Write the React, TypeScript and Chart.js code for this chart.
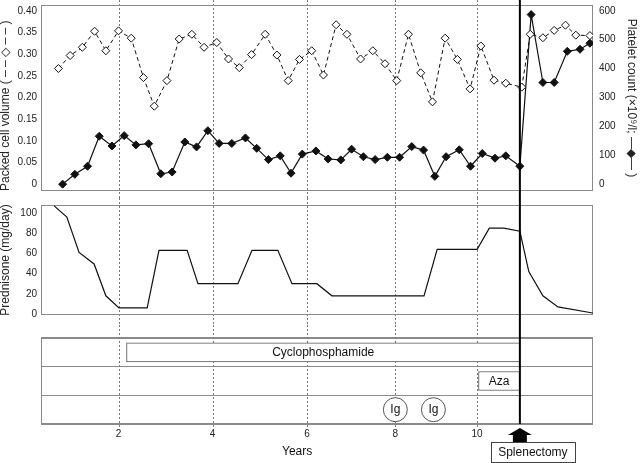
import React, { useEffect, useRef } from 'react';
import { Chart, registerables } from 'chart.js';

Chart.register(...registerables);

const FONT = "'Liberation Sans', Arial, Helvetica, sans-serif";
Chart.defaults.font.family = FONT;
Chart.defaults.color = '#222';

// ---------------- data ----------------
// x positions are on the figure's timeline axis (year ticks are not evenly spaced in the original)
const yearLabels = ['2', '4', '6', '8', '10'];
const yearTickPos = [2, 4, 6.01, 7.89, 9.63];
const X_MIN = 0.35;
const X_MAX = 12.096;
const splenectomyAt = 10.54;
const yearsTitleAt = 5.8;

const pcvTimes = [0.72, 0.97, 1.23, 1.49, 1.73, 2.0, 2.27, 2.53, 2.76, 3.03, 3.29, 3.56, 3.82, 4.09, 4.34, 4.57, 4.83, 5.12, 5.37, 5.61, 5.85, 6.11, 6.36, 6.63, 6.86, 7.15, 7.41, 7.67, 7.92, 8.17, 8.43, 8.68, 8.95, 9.21, 9.48, 9.71, 9.99, 10.24, 10.58, 10.76, 11.03, 11.27, 11.51, 11.73, 12.03];
const pcvValues = [0.267, 0.297, 0.316, 0.353, 0.308, 0.354, 0.337, 0.246, 0.18, 0.239, 0.335, 0.346, 0.316, 0.327, 0.289, 0.269, 0.299, 0.346, 0.298, 0.239, 0.288, 0.308, 0.252, 0.368, 0.346, 0.289, 0.308, 0.278, 0.239, 0.346, 0.257, 0.19, 0.337, 0.288, 0.22, 0.319, 0.24, 0.233, 0.224, 0.346, 0.338, 0.355, 0.367, 0.344, 0.343];

const plateletTimes = [0.81, 1.07, 1.34, 1.59, 1.86, 2.12, 2.37, 2.64, 2.9, 3.14, 3.41, 3.66, 3.9, 4.14, 4.41, 4.7, 4.94, 5.19, 5.44, 5.67, 5.91, 6.2, 6.46, 6.73, 6.96, 7.21, 7.46, 7.72, 7.98, 8.24, 8.49, 8.73, 8.97, 9.25, 9.49, 9.74, 10.01, 10.24, 10.54, 10.78, 11.03, 11.27, 11.55, 11.82, 12.03];
const plateletValues = [0, 34, 62, 166, 132, 168, 136, 140, 36, 42, 146, 129, 185, 141, 141, 160, 124, 85, 98, 38, 104, 115, 87, 84, 121, 95, 85, 93, 93, 130, 118, 27, 95, 119, 62, 106, 90, 98, 62, 587, 352, 352, 460, 467, 488];

const prednisoneTimes = [0.63, 0.9, 1.16, 1.48, 1.73, 2.01, 2.61, 2.86, 3.46, 3.69, 4.54, 4.84, 5.39, 5.69, 6.22, 6.54, 8.5, 8.78, 9.63, 9.89, 10.2, 10.54, 10.73, 11.03, 11.35, 12.09];
const prednisoneValues = [107, 96, 61, 49.5, 18, 6, 6, 63, 63, 30, 30, 63, 63, 30, 30, 18, 18, 64, 64, 85, 85, 82, 42, 18, 7, 1];

const pcvTicks = [0, 0.05, 0.1, 0.15, 0.2, 0.25, 0.3, 0.35, 0.4];
const plateletTicks = [0, 100, 200, 300, 400, 500, 600];
const prednisoneTicks = [0, 20, 40, 60, 80, 100];

const treatmentRows = ['Cyclophosphamide', 'Aza', 'Ig'];
const cyclophosphamideSpan = [2.17, 10.54];
const azaSpan = [9.66, 10.54];
const igTimes = [7.89, 8.7];

// ---------------- styling helpers ----------------
const INK = '#111';
const FRAME = '#8a8a8a';
const DOT = '#777';

const fixWidth = (w: number) => (s: any) => {
  s.width = w;
  s.paddingTop = 0;
  s.paddingBottom = 0;
  s.paddingLeft = 0;
  s.paddingRight = 0;
};
const setTicks = (vals: number[]) => (s: any) => {
  s.ticks = vals.map((v) => ({ value: v }));
};

type OverlayCfg = {
  id: string;
  gridTop: number;
  gridBottom: number;
  splTop: number;
  splBottom: number;
  extra?: (chart: any) => void;
};

function overlay(cfg: OverlayCfg) {
  return {
    id: cfg.id,
    beforeDatasetsDraw(chart: any) {
      const { ctx, chartArea: a } = chart;
      const xs = chart.scales.x;
      ctx.save();
      ctx.strokeStyle = DOT;
      ctx.lineWidth = 1;
      ctx.setLineDash([2, 2]);
      yearTickPos.forEach((v) => {
        const px = Math.round(xs.getPixelForValue(v)) + 0.5;
        ctx.beginPath();
        ctx.moveTo(px, cfg.gridTop);
        ctx.lineTo(px, cfg.gridBottom);
        ctx.stroke();
      });
      ctx.setLineDash([]);
      ctx.strokeStyle = FRAME;
      ctx.strokeRect(a.left + 0.5, a.top + 0.5, a.right - a.left - 1, a.bottom - a.top - 1);
      ctx.restore();
    },
    afterDatasetsDraw(chart: any) {
      const { ctx } = chart;
      const xs = chart.scales.x;
      const px = xs.getPixelForValue(splenectomyAt);
      ctx.save();
      ctx.strokeStyle = '#000';
      ctx.lineWidth = 2;
      ctx.beginPath();
      ctx.moveTo(px, cfg.splTop);
      ctx.lineTo(px, cfg.splBottom);
      ctx.stroke();
      ctx.restore();
      if (cfg.extra) cfg.extra(chart);
    },
  };
}

function drawTreatmentNotes(chart: any) {
  const { ctx, chartArea: a } = chart;
  const xs = chart.scales.x;
  ctx.save();
  ctx.font = `12px ${FONT}`;
  ctx.fillStyle = INK;
  ctx.textAlign = 'center';
  ctx.textBaseline = 'middle';
  const bars = chart.getDatasetMeta(0).data;
  bars.forEach((el: any, i: number) => {
    const p = el.getProps(['x', 'y', 'base'], true);
    ctx.fillText(treatmentRows[i], (p.x + p.base) / 2, p.y + 0.5);
  });
  const pts = chart.getDatasetMeta(1).data;
  pts.forEach((p: any) => ctx.fillText('Ig', p.x, p.y + 0.5));

  // splenectomy arrow + label box
  const cx = xs.getPixelForValue(splenectomyAt);
  const tip = a.bottom + 4;
  ctx.fillStyle = '#000';
  ctx.beginPath();
  ctx.moveTo(cx, tip);
  ctx.lineTo(cx + 12, tip + 7);
  ctx.lineTo(cx + 7, tip + 7);
  ctx.lineTo(cx + 7, tip + 14);
  ctx.lineTo(cx - 7, tip + 14);
  ctx.lineTo(cx - 7, tip + 7);
  ctx.lineTo(cx - 12, tip + 7);
  ctx.closePath();
  ctx.fill();
  ctx.strokeStyle = '#444';
  ctx.lineWidth = 1;
  ctx.strokeRect(Math.round(cx - 29) + 0.5, tip + 14.5, 84, 20);
  ctx.fillStyle = INK;
  ctx.fillText('Splenectomy', cx + 13, tip + 25);

  // axis title
  ctx.fillText('Years', xs.getPixelForValue(yearsTitleAt), a.bottom + 28);
  ctx.restore();
}

// ---------------- chart configs ----------------
const PCV_MIN = -0.0158;
const PCV_MAX = 0.4136;
const PLT_MIN = -23.7;
const PLT_MAX = 620.3;
const PRED_MIN = -1;
const PRED_MAX = 107.9;

const baseOpts = {
  responsive: false,
  animation: false as const,
  events: [] as any[],
  plugins: { legend: { display: false }, tooltip: { enabled: false } },
};

const tickFont = { size: 10 };
const titleFont = { size: 12, lineHeight: 1 };

function configTop(): any {
  return {
    type: 'line',
    data: {
      datasets: [
        {
          label: 'Packed cell volume',
          yAxisID: 'yL',
          data: pcvTimes.map((t, i) => ({ x: t, y: pcvValues[i] })),
          borderColor: INK,
          borderWidth: 1,
          borderDash: [4, 3],
          pointStyle: 'rectRot',
          pointRadius: 4,
          pointBackgroundColor: '#fff',
          pointBorderColor: INK,
          pointBorderWidth: 1,
          tension: 0,
          fill: false,
        },
        {
          label: 'Platelet count',
          yAxisID: 'yR',
          data: plateletTimes.map((t, i) => ({ x: t, y: plateletValues[i] })),
          borderColor: INK,
          borderWidth: 1.2,
          pointStyle: 'rectRot',
          pointRadius: 4,
          pointBackgroundColor: INK,
          pointBorderColor: INK,
          pointBorderWidth: 1,
          tension: 0,
          fill: false,
        },
      ],
    },
    options: {
      ...baseOpts,
      layout: { padding: { top: 1, bottom: 7, left: 0, right: 0 } },
      scales: {
        x: { type: 'linear', display: false, min: X_MIN, max: X_MAX },
        yL: {
          type: 'linear',
          position: 'left',
          min: PCV_MIN,
          max: PCV_MAX,
          afterBuildTicks: setTicks(pcvTicks),
          afterFit: fixWidth(41),
          ticks: {
            font: tickFont,
            padding: 4,
            callback: (v: any) => (Number(v) === 0 ? '0' : Number(v).toFixed(2)),
          },
          grid: { display: false, drawTicks: false },
          border: { display: false },
          title: {
            display: true,
            align: 'start',
            text: 'Packed cell volume ( – – ◇ – – )',
            font: titleFont,
            padding: { top: 0, bottom: 0 },
          },
        },
        yR: {
          type: 'linear',
          position: 'right',
          min: PLT_MIN,
          max: PLT_MAX,
          afterBuildTicks: setTicks(plateletTicks),
          afterFit: fixWidth(47),
          ticks: { font: tickFont, padding: 6, callback: (v: any) => String(v) },
          grid: { display: false, drawTicks: false },
          border: { display: false },
          title: {
            display: true,
            text: 'Platelet count (×10⁹/l; —◆— )',
            font: titleFont,
            padding: { top: 3, bottom: 0 },
          },
        },
      },
    },
    plugins: [overlay({ id: 'ovTop', gridTop: 0, gridBottom: 198, splTop: 0, splBottom: 198 })],
  };
}

function configMiddle(): any {
  return {
    type: 'line',
    data: {
      datasets: [
        {
          label: 'Prednisone',
          data: prednisoneTimes.map((t, i) => ({ x: t, y: prednisoneValues[i] })),
          borderColor: INK,
          borderWidth: 1.2,
          pointRadius: 0,
          tension: 0,
          fill: false,
        },
      ],
    },
    options: {
      ...baseOpts,
      layout: { padding: { top: 7, bottom: 10, left: 0, right: 47 } },
      scales: {
        x: { type: 'linear', display: false, min: X_MIN, max: X_MAX },
        y: {
          type: 'linear',
          position: 'left',
          min: PRED_MIN,
          max: PRED_MAX,
          afterBuildTicks: setTicks(prednisoneTicks),
          afterFit: fixWidth(41),
          ticks: { font: tickFont, padding: 4, callback: (v: any) => String(v) },
          grid: { display: false, drawTicks: false },
          border: { display: false },
          title: {
            display: true,
            text: 'Prednisone (mg/day)',
            font: titleFont,
            padding: { top: 0, bottom: 0 },
          },
        },
      },
    },
    plugins: [overlay({ id: 'ovMid', gridTop: 0, gridBottom: 127, splTop: 0, splBottom: 127 })],
  };
}

function configBottom(): any {
  return {
    type: 'bar',
    data: {
      labels: treatmentRows,
      datasets: [
        {
          type: 'bar',
          indexAxis: 'y',
          label: 'Treatment',
          data: [
            { x: cyclophosphamideSpan, y: treatmentRows[0] },
            { x: azaSpan, y: treatmentRows[1] },
          ],
          backgroundColor: '#fff',
          borderColor: '#555',
          borderWidth: 1,
          borderSkipped: false,
          barThickness: 19,
        },
        {
          type: 'scatter',
          label: 'Ig',
          data: igTimes.map((t) => ({ x: t, y: treatmentRows[2] })),
          pointRadius: 12,
          pointBackgroundColor: '#fff',
          pointBorderColor: '#555',
          pointBorderWidth: 1,
          showLine: false,
        },
      ],
    },
    options: {
      ...baseOpts,
      layout: { padding: { top: 11, bottom: 0, left: 0, right: 47 } },
      scales: {
        x: {
          type: 'linear',
          position: 'bottom',
          min: X_MIN,
          max: X_MAX,
          offset: false,
          afterBuildTicks: setTicks(yearTickPos),
          afterFit: (s: any) => {
            s.height = 39;
            s.paddingLeft = 0;
            s.paddingRight = 0;
          },
          ticks: {
            font: tickFont,
            padding: 4,
            autoSkip: false,
            maxRotation: 0,
            callback: (_v: any, i: number) => yearLabels[i],
          },
          grid: { display: false, drawTicks: false },
          border: { display: false },
        },
        y: {
          type: 'category',
          position: 'left',
          offset: true,
          afterFit: fixWidth(41),
          ticks: { display: false },
          grid: { display: true, offset: true, color: FRAME, drawTicks: false, lineWidth: 1 },
          border: { display: false },
        },
      },
    },
    plugins: [overlay({ id: 'ovBot', gridTop: 0, gridBottom: 103, splTop: 0, splBottom: 99, extra: drawTreatmentNotes })],
  };
}

export default function App() {
  const topRef = useRef<HTMLCanvasElement>(null);
  const midRef = useRef<HTMLCanvasElement>(null);
  const botRef = useRef<HTMLCanvasElement>(null);

  useEffect(() => {
    const charts = [
      new Chart(topRef.current as HTMLCanvasElement, configTop()),
      new Chart(midRef.current as HTMLCanvasElement, configMiddle()),
      new Chart(botRef.current as HTMLCanvasElement, configBottom()),
    ];
    return () => charts.forEach((c) => c.destroy());
  }, []);

  const cStyle = (top: number, h: number): React.CSSProperties => ({
    position: 'absolute',
    left: 0,
    top,
    width: 640,
    height: h,
    display: 'block',
  });

  return (
    <div style={{ position: 'fixed', left: 0, top: 0, width: 640, height: 463, background: '#fff', overflow: 'hidden' }}>
      <canvas ref={topRef} width={640} height={198} style={cStyle(0, 198)} />
      <canvas ref={midRef} width={640} height={127} style={cStyle(198, 127)} />
      <canvas ref={botRef} width={640} height={138} style={cStyle(325, 138)} />
    </div>
  );
}
